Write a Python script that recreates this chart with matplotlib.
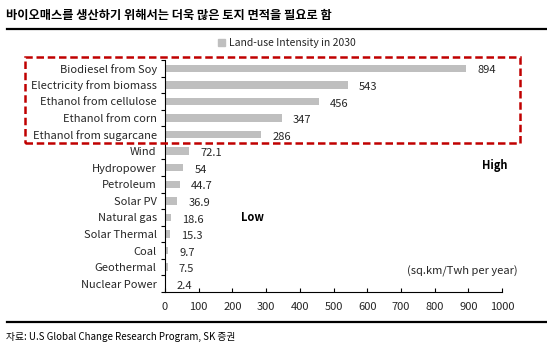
import matplotlib.pyplot as plt
from matplotlib.patches import Rectangle, Patch
from matplotlib.lines import Line2D

plt.rcParams['font.family'] = ['Noto Sans CJK KR', 'DejaVu Sans']

# 데이터 (위에서 아래 순서)
categories = ["Biodiesel from Soy", "Electricity from biomass", "Ethanol from cellulose",
              "Ethanol from corn", "Ethanol from sugarcane", "Wind", "Hydropower",
              "Petroleum", "Solar PV", "Natural gas", "Solar Thermal", "Coal",
              "Geothermal", "Nuclear Power"]
values = [894, 543, 456, 347, 286, 72.1, 54, 44.7, 36.9, 18.6, 15.3, 9.7, 7.5, 2.4]
value_labels = ["894", "543", "456", "347", "286", "72.1", "54", "44.7", "36.9",
                "18.6", "15.3", "9.7", "7.5", "2.4"]

bar_color = "#BFBFBF"
txt_color = "#262626"

fig = plt.figure(figsize=(5.47, 3.48), dpi=100)
W, H = 547, 348
ax = fig.add_axes([165 / W, 1 - 292 / H, (502 - 165) / W, (292 - 60) / H])

n = len(categories)
ypos = list(range(n))
ax.barh(ypos, values, height=0.45, color=bar_color, zorder=2)
for y, v, s in zip(ypos, values, value_labels):
    ax.annotate(s, (v, y), xytext=(8, -1.5), textcoords="offset points",
                va="center", ha="left", fontsize=8, color=txt_color)

ax.set_ylim(n - 0.5, -0.5)
ax.set_xlim(0, 1000)
ax.set_xticks(range(0, 1001, 100))
ax.set_yticks(ypos)
ax.set_yticklabels(categories, fontsize=8, color=txt_color)
ax.set_yticks([i - 0.5 for i in range(n + 1)], minor=True)
ax.tick_params(axis="y", which="major", length=0, pad=6)
ax.tick_params(axis="y", which="minor", length=3, direction="out", width=0.8)
ax.tick_params(axis="x", direction="in", length=3, labelsize=8, labelcolor=txt_color, pad=7)
for sp in ["top", "right"]:
    ax.spines[sp].set_visible(False)
ax.spines["left"].set_linewidth(0.8)
ax.spines["bottom"].set_linewidth(0.8)

# 제목
fig.text(6 / W, 1 - 15 / H, "바이오매스를 생산하기 위해서는 더욱 많은 토지 면적을 필요로 함",
         fontsize=8.8, fontweight="bold", va="center", ha="left", color="black")
fig.add_artist(Line2D([7 / W, 1], [1 - 29 / H] * 2, color="black", lw=1.6))
fig.add_artist(Line2D([7 / W, 1], [1 - 322 / H] * 2, color="black", lw=1.6))
fig.text(6 / W, 1 - 337 / H, "자료: U.S Global Change Research Program, SK 증권",
         fontsize=7, va="center", ha="left", color="black")

# 범례
fig.legend(handles=[Patch(color=bar_color, label="Land-use Intensity in 2030")],
           loc="center", bbox_to_anchor=(287 / W, 1 - 43 / H), frameon=False,
           fontsize=7.5, handlelength=0.7, handleheight=0.7, handletextpad=0.4,
           labelcolor=txt_color)

# 빨간 점선 박스
fig.add_artist(Rectangle((25 / W, 1 - 143 / H), (520 - 25) / W, (143 - 57) / H,
                         transform=fig.transFigure, fill=False, edgecolor="#C00000",
                         linestyle=(0, (3, 1.5)), linewidth=1.8))

fig.text(495 / W, 1 - 165 / H, "High", fontsize=8, fontweight="bold", ha="center", va="center")
fig.text(252 / W, 1 - 217 / H, "Low", fontsize=8, fontweight="bold", ha="center", va="center")
fig.text(518 / W, 1 - 271 / H, "(sq.km/Twh per year)", fontsize=8, ha="right", va="center",
         color=txt_color)

fig.savefig("out.png", dpi=100)
